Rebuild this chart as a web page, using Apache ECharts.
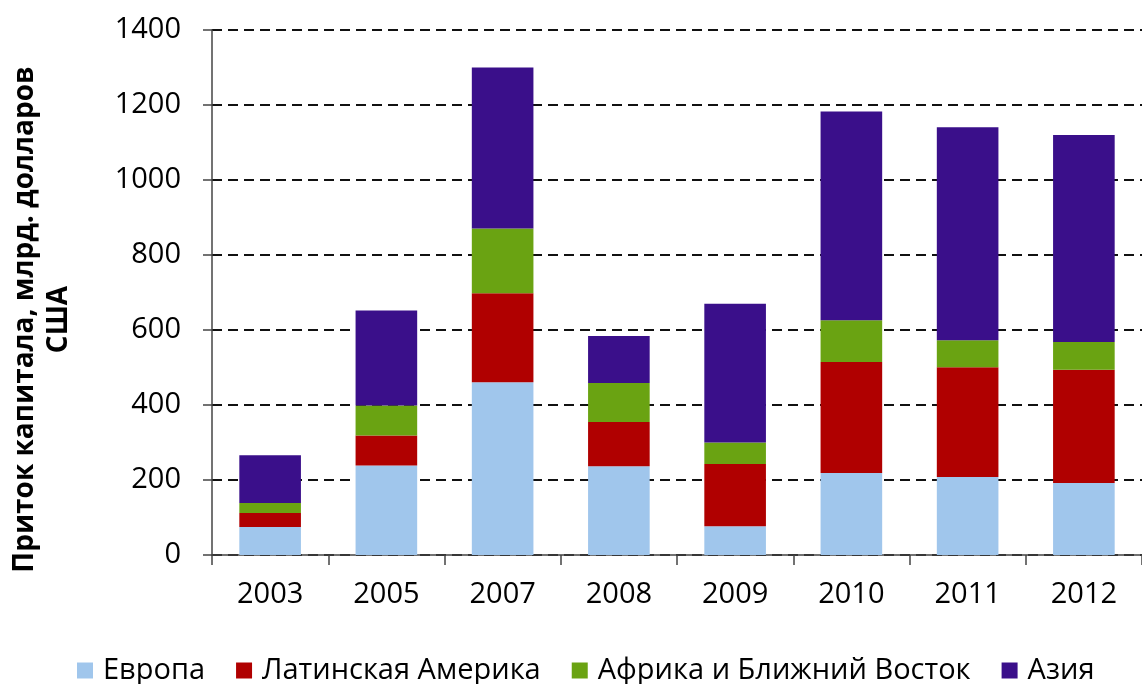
<!DOCTYPE html>
<html>
<head>
<meta charset="utf-8">
<script src="https://cdn.jsdelivr.net/npm/echarts@6/dist/echarts.min.js"></script>
<style>
  html, body { margin: 0; padding: 0; background: #fff; }
  #chart { width: 1142px; height: 684px; }
</style>
</head>
<body>
<div id="chart"></div>
<script>
// годы
const years = ['2003', '2005', '2007', '2008', '2009', '2010', '2011', '2012'];
// значения по регионам (слои стопки), млрд. долларов США
const europe = [75, 239, 461, 237, 77, 219, 208, 192];
const latam = [37, 80, 237, 118, 166, 296, 293, 302];
const africa = [27, 80, 173, 104, 57, 111, 72, 74];
const asia = [127, 253, 429, 125, 370, 557, 568, 552];
const seriesNames = ['Европа', 'Латинская Америка', 'Африка и Ближний Восток', 'Азия'];
const colors = ['#a0c6ec', '#b00000', '#6aa312', '#3a0f8a'];

const font = '"Open Sans", "DejaVu Sans", sans-serif';
const myChart = echarts.init(document.getElementById('chart'));

function bar(name, data, color) {
  return {
    name: name,
    type: 'bar',
    stack: 'total',
    barWidth: '53%',
    data: data,
    itemStyle: { color: color }
  };
}

const option = {
  animation: false,
  textStyle: { fontFamily: font },
  grid: { left: 208, right: 0, top: 30, bottom: 129 },
  legend: {
    left: 72,
    top: 651,
    itemWidth: 16,
    itemHeight: 16,
    itemGap: 31,
    icon: 'rect',
    textStyle: { fontSize: 29, color: '#000', fontFamily: font, padding: [0, 0, 0, 5] },
    data: seriesNames
  },
  xAxis: {
    type: 'category',
    data: years,
    axisLine: { lineStyle: { color: '#444', width: 1.5 } },
    axisTick: { show: true, length: 10, lineStyle: { color: '#444', width: 1.5 } },
    axisLabel: { fontSize: 29, color: '#000', margin: 25 }
  },
  yAxis: {
    type: 'value',
    min: 0,
    max: 1400,
    interval: 200,
    name: 'Приток капитала, млрд. долларов\nСША',
    nameLocation: 'middle',
    nameGap: 136,
    nameTextStyle: {
      fontSize: 28,
      fontWeight: 'bold',
      color: '#000',
      lineHeight: 34,
      padding: [0, 54, 0, 0]
    },
    axisLine: { show: true, lineStyle: { color: '#444', width: 1.5 } },
    axisTick: { show: true, length: 9, lineStyle: { color: '#444', width: 1.5 } },
    axisLabel: {
      fontSize: 29,
      color: '#000',
      margin: 31,
      formatter: function (v) { return String(v); }
    },
    splitLine: { lineStyle: { color: '#111', type: [10, 6], width: 2 } }
  },
  series: [
    bar(seriesNames[0], europe, colors[0]),
    bar(seriesNames[1], latam, colors[1]),
    bar(seriesNames[2], africa, colors[2]),
    bar(seriesNames[3], asia, colors[3])
  ]
};

myChart.setOption(option);
window.onresize = myChart.resize;
</script>
</body>
</html>
